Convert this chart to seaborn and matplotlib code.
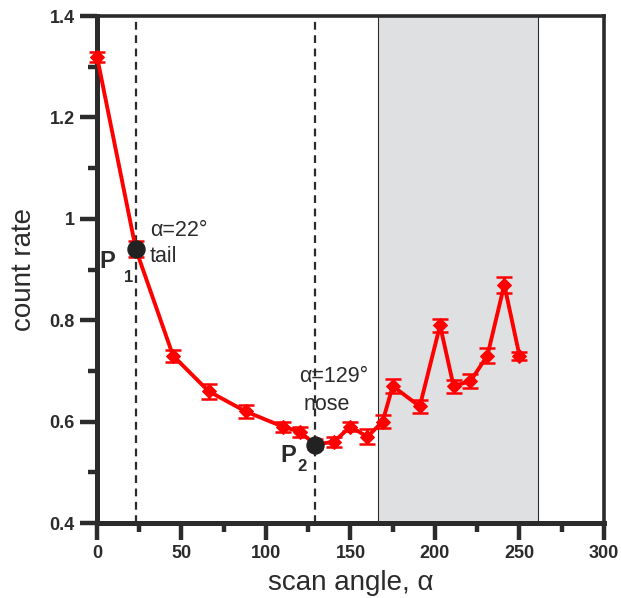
import numpy as np
import pandas as pd
import matplotlib
matplotlib.use('Agg')
import matplotlib.pyplot as plt
import seaborn as sns

# data
angle = [0, 23, 45, 66, 88, 110, 120, 129, 140, 150, 160, 169, 175, 191, 203, 211, 221, 231, 241, 250]
rate = [1.32, 0.94, 0.73, 0.66, 0.62, 0.59, 0.58, 0.555, 0.56, 0.59, 0.57, 0.60, 0.67, 0.63, 0.79, 0.67, 0.68, 0.73, 0.87, 0.73]
err = [0.010, 0.016, 0.012, 0.015, 0.013, 0.010, 0.010, 0.010, 0.010, 0.009, 0.015, 0.013, 0.014, 0.013, 0.013, 0.013, 0.013, 0.015, 0.016, 0.008]

tail_angle = 23
nose_angle = 129
p1_rate = 0.94
p2_rate = 0.553
shade_range = [166, 261]

df = pd.DataFrame({'angle': angle, 'rate': rate, 'err': err})

sns.set_style('ticks')
plt.rcParams['font.family'] = ['Liberation Sans', 'DejaVu Sans']

spine_col = '#2b2b2b'
fig = plt.figure(figsize=(6.21, 5.98), dpi=100)
ax = fig.add_axes([0.1562, 0.1254, 0.8164, 0.8478])

ax.axvspan(shade_range[0], shade_range[1], facecolor='#dfe0e2', edgecolor=spine_col, linewidth=0.8, zorder=0)
ax.axvline(tail_angle, color=spine_col, linestyle=(0, (3.5, 2.5)), linewidth=1.6, zorder=1)
ax.axvline(nose_angle, color=spine_col, linestyle=(0, (3.5, 2.5)), linewidth=1.6, zorder=1)

eb = ax.errorbar(df['angle'], df['rate'], yerr=df['err'], fmt='none', ecolor='red',
                 elinewidth=1.8, capsize=6, capthick=1.8, zorder=3)
for art in eb.get_children():
    art.set_clip_on(False)
sns.lineplot(data=df, x='angle', y='rate', ax=ax, color='red', linewidth=2.8,
             marker='D', markersize=7.5, markeredgecolor='red', zorder=4, clip_on=False)

ax.scatter([tail_angle, nose_angle], [p1_rate, p2_rate], s=150, color='#222222', zorder=5)

ax.set_xlim(0, 300)
ax.set_ylim(0.4, 1.4)
ax.set_xticks([0, 50, 100, 150, 200, 250, 300])
ax.set_xticks([25, 75, 125, 175, 225, 275], minor=True)
ax.set_yticks([0.4, 0.6, 0.8, 1.0, 1.2, 1.4])
ax.set_yticks([0.5, 0.7, 0.9, 1.1, 1.3], minor=True)
ax.set_yticklabels(['0.4', '0.6', '0.8', '1', '1.2', '1.4'])

for side in ['left', 'bottom']:
    ax.spines[side].set_linewidth(3.6)
for side in ['top', 'right']:
    ax.spines[side].set_linewidth(2.6)
for s in ax.spines.values():
    s.set_color(spine_col)
ax.tick_params(which='major', length=12, width=3.2, color=spine_col, labelsize=13, pad=4)
ax.tick_params(which='minor', length=6.5, width=3.2, color=spine_col)
for lab in ax.get_xticklabels() + ax.get_yticklabels():
    lab.set_fontweight('bold')
    lab.set_color(spine_col)

ax.set_xlabel('scan angle, α', fontsize=20, color=spine_col)
ax.set_ylabel('count rate', fontsize=20, color=spine_col)
ax.xaxis.set_label_coords(0.5, -0.093)
ax.yaxis.set_label_coords(-0.118, 0.5)

txt = dict(color=spine_col, fontsize=15.5)
ax.text(31.4, 0.976, 'α=22°', ha='left', va='center', **txt)
ax.text(31.4, 0.925, 'tail', ha='left', va='center', **txt)
ax.text(5.8, 0.915, 'P', ha='center', va='center', fontweight='bold', fontsize=17, color=spine_col)
ax.text(19.0, 0.884, '1', ha='center', va='center', fontweight='bold', fontsize=12, color=spine_col)

ax.text(139.9, 0.688, 'α=129°', ha='center', va='center', **txt)
ax.text(135.7, 0.633, 'nose', ha='center', va='center', **txt)
ax.text(113, 0.534, 'P', ha='center', va='center', fontweight='bold', fontsize=17, color=spine_col)
ax.text(121.5, 0.511, '2', ha='center', va='center', fontweight='bold', fontsize=12, color=spine_col)

fig.savefig('out.png', dpi=100)
